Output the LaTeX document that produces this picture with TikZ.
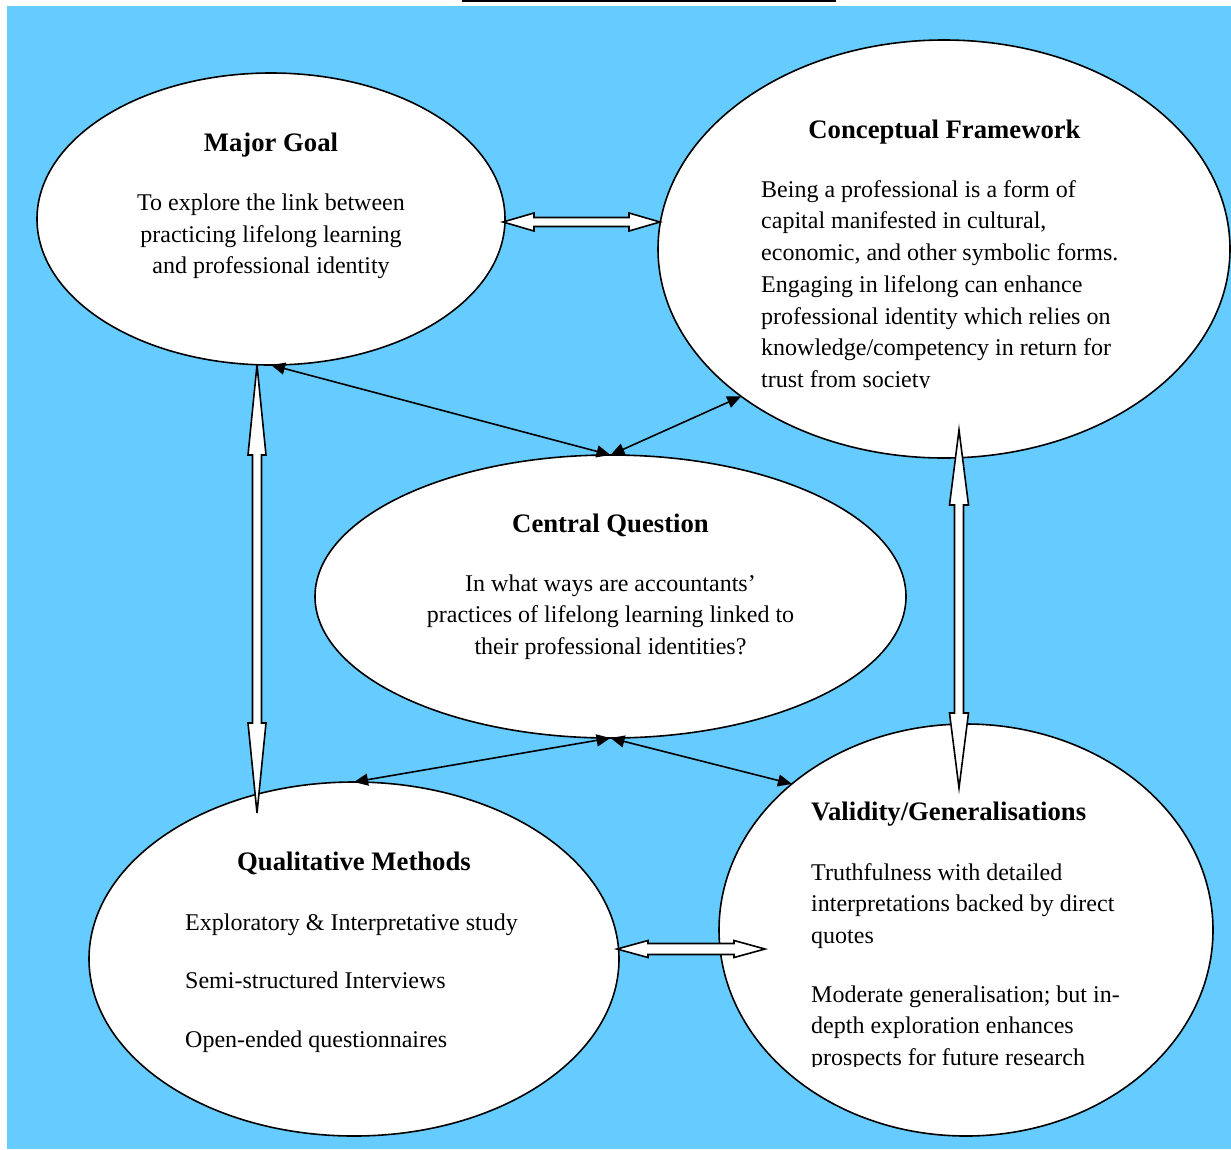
\documentclass[tikz,border=0pt]{standalone}
\usepackage{fontspec}
\setmainfont{Liberation Serif}
\usetikzlibrary{shapes.geometric,arrows.meta,calc}
\definecolor{skyfill}{HTML}{66CCFF}

\tikzset{
  bubble/.style={ellipse, draw=black, line width=1.6pt, fill=white, inner sep=0pt, outer sep=0pt},
  headline/.style={font=\fontsize{26.7}{30}\selectfont\bfseries, inner sep=0pt},
  bodytext/.style={font=\fontsize{24}{31.7}\selectfont, inner sep=0pt},
  link/.style={line width=1.6pt, {Triangle[length=14pt,width=12pt]}-{Triangle[length=14pt,width=12pt]}},
  hollow/.style={draw=black, line width=1.6pt, fill=white, line join=miter},
}

% block double-headed arrow: #1 tip, #2 tip, #3 head length, #4 head half width, #5 shaft half width
\newcommand{\twinarrow}[5]{%
  \path[hollow] (#1)
    -- ($(#1)!#3!(#2)!#4!90:(#2)$)
    -- ($(#1)!#3!(#2)!#5!90:(#2)$)
    -- ($(#2)!#3!(#1)!#5!-90:(#1)$)
    -- ($(#2)!#3!(#1)!#4!-90:(#1)$)
    -- (#2)
    -- ($(#2)!#3!(#1)!#4!90:(#1)$)
    -- ($(#2)!#3!(#1)!#5!90:(#1)$)
    -- ($(#1)!#3!(#2)!#5!-90:(#2)$)
    -- ($(#1)!#3!(#2)!#4!-90:(#2)$)
    -- cycle;}

\begin{document}
\begin{tikzpicture}[x=1pt, y=-1pt]
\useasboundingbox (0,0) rectangle (1231,1149);
\fill[skyfill] (7,6) rectangle (1231,1149);
\draw[line width=2pt] (462,1) -- (836,1);

% bubbles
\node[bubble, minimum width=468pt, minimum height=292pt] (mg) at (271,219) {};
\node[bubble, minimum width=572pt, minimum height=418pt] (cf) at (944,249) {};
\node[bubble, minimum width=591pt, minimum height=283pt] (cq) at (610.5,596.5) {};
\node[bubble, minimum width=530pt, minimum height=354pt] (qm) at (354,959) {};
\node[bubble, minimum width=494pt, minimum height=412pt] (vg) at (966,930) {};

% texts
\node[headline] (mgT) at (271,145.5) {Major Goal};
\node[bodytext, align=center] (mgB) at (271,236.5)
  {To explore the link between\\practicing lifelong learning\\and professional identity};

\node[headline] (cfT) at (944.5,132.5) {Conceptual Framework};
\begin{scope}
  \clip (700,150) rectangle (1200,387.5);
  \node[bodytext, align=left, anchor=west] (cfB) at (761,286.5)
    {Being a professional is a form of\\capital manifested in cultural,\\economic, and other symbolic forms.\\Engaging in lifelong can enhance\\professional identity which relies on\\knowledge/competency in return for\\trust from society};
\end{scope}

\node[headline] (cqT) at (610.5,525.5) {Central Question};
\node[bodytext, align=center] (cqB) at (610.5,617)
  {In what ways are accountants'\\practices of lifelong learning linked to\\their professional identities?};

\node[headline] (qmT) at (354,863.5) {Qualitative Methods};
\node[bodytext, align=left, anchor=west, font=\fontsize{24}{58.5}\selectfont] (qmB) at (185,983)
  {Exploratory \& Interpretative study\\Semi-structured Interviews\\Open-ended questionnaires};

\node[headline, anchor=west] (vgT) at (811,814.5) {Validity/Generalisations};
\node[bodytext, align=left, anchor=west] (vgB1) at (811,906)
  {Truthfulness with detailed\\interpretations backed by direct\\quotes};
\begin{scope}
  \clip (780,960) rectangle (1200,1066);
  \node[bodytext, align=left, anchor=west] (vgB2) at (811,1028)
    {Moderate generalisation; but in-\\depth exploration enhances\\prospects for future research};
\end{scope}

% thin links
\draw[link] (mg.south) -- (cq.north);
\draw[link] (cq.north) -- (cf.216);
\draw[link] (cq.south) -- (qm.north);
\draw[link] (cq.south) -- (vg.140);

% block arrows
\coordinate (a1s) at (503,222);
\coordinate (a1e) at (660,222);
\coordinate (a2s) at (257,365);
\coordinate (a2e) at (257,813);
\coordinate (a3s) at (959,430);
\coordinate (a3e) at (959,788);
\coordinate (a4s) at (617,949);
\coordinate (a4e) at (765,949);
\twinarrow{a1s}{a1e}{31pt}{9pt}{4.5pt}
\twinarrow{a2s}{a2e}{90pt}{9pt}{4.5pt}
\twinarrow{a3s}{a3e}{75pt}{9.5pt}{4.5pt}
\twinarrow{a4s}{a4e}{31pt}{8.5pt}{5.5pt}
\end{tikzpicture}
\end{document}
